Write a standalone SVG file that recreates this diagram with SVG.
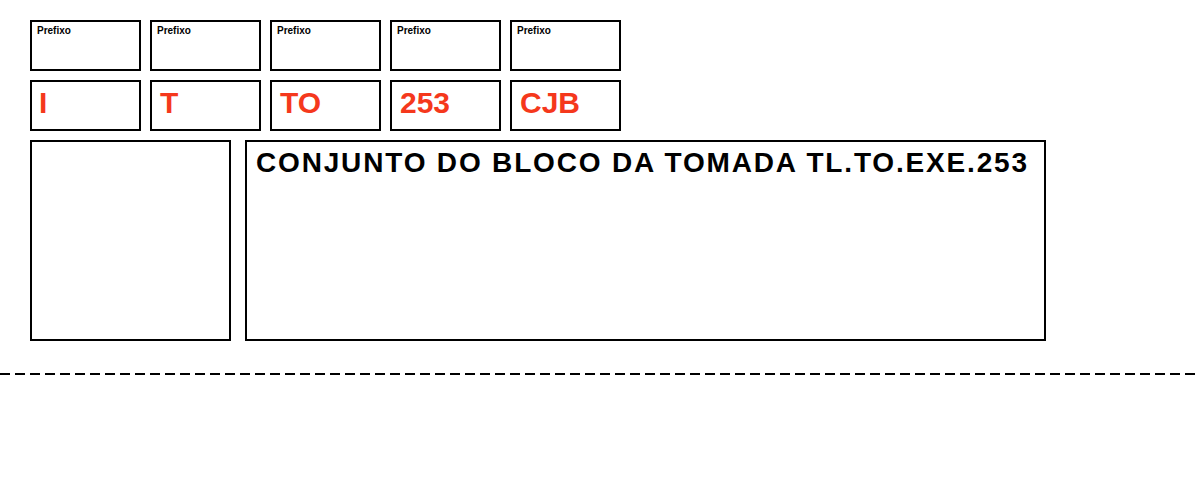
<svg xmlns="http://www.w3.org/2000/svg" width="1200" height="500" viewBox="0 0 1200 500">
<style>
.box{fill:#fff;stroke:#000;stroke-width:2}
.pre{font-family:"Liberation Sans",Arial,sans-serif;font-size:10px;font-weight:bold;fill:#000}
.val{font-family:"Liberation Sans",Arial,sans-serif;font-size:30px;font-weight:bold;fill:#f5381c}
.title{font-family:"Liberation Sans",Arial,sans-serif;font-size:28px;font-weight:bold;fill:#000}
</style>
<rect width="1200" height="500" fill="#fff"/>
<g id="prefix1"><rect class="box" x="31" y="21" width="109" height="49"/><text class="pre" x="37" y="34">Prefixo</text></g>
<g id="prefix2"><rect class="box" x="151" y="21" width="109" height="49"/><text class="pre" x="157" y="34">Prefixo</text></g>
<g id="prefix3"><rect class="box" x="271" y="21" width="109" height="49"/><text class="pre" x="277" y="34">Prefixo</text></g>
<g id="prefix4"><rect class="box" x="391" y="21" width="109" height="49"/><text class="pre" x="397" y="34">Prefixo</text></g>
<g id="prefix5"><rect class="box" x="511" y="21" width="109" height="49"/><text class="pre" x="517" y="34">Prefixo</text></g>
<g id="val1"><rect class="box" x="31" y="81" width="109" height="49"/><text class="val" x="39" y="113">I</text></g>
<g id="val2"><rect class="box" x="151" y="81" width="109" height="49"/><text class="val" x="160" y="113">T</text></g>
<g id="val3"><rect class="box" x="271" y="81" width="109" height="49"/><text class="val" x="280" y="113">TO</text></g>
<g id="val4"><rect class="box" x="391" y="81" width="109" height="49"/><text class="val" x="400" y="113">253</text></g>
<g id="val5"><rect class="box" x="511" y="81" width="109" height="49"/><text class="val" x="520" y="113">CJB</text></g>
<g id="image"><rect class="box" x="31" y="141" width="199" height="199"/></g>
<g id="titlebox"><rect class="box" x="246" y="141" width="799" height="199"/><text class="title" x="256" y="172" textLength="771" lengthAdjust="spacing">CONJUNTO DO BLOCO DA TOMADA TL.TO.EXE.253</text></g>
<g id="connectors"><line x1="0" y1="374" x2="1200" y2="374" stroke="#000" stroke-width="2" stroke-dasharray="10,5"/></g>
</svg>
